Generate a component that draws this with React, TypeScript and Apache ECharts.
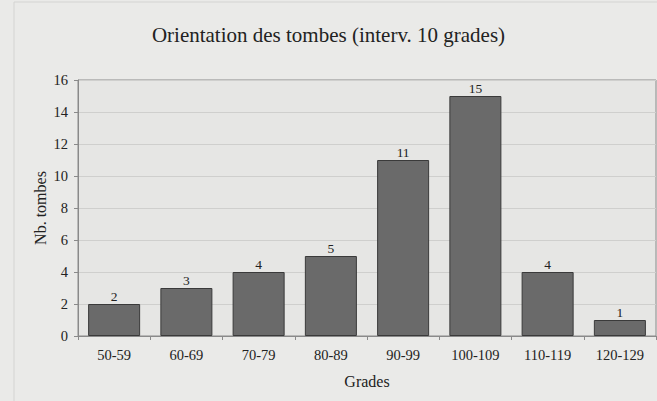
import React, { useEffect, useRef } from "react";
import * as echarts from "echarts";

const categories = ["50-59", "60-69", "70-79", "80-89", "90-99", "100-109", "110-119", "120-129"];
const counts = [2, 3, 4, 5, 11, 15, 4, 1];
const titleText = "Orientation des tombes (interv. 10 grades)";
const xName = "Grades";
const yName = "Nb. tombes";

export default function App() {
  const ref = useRef<HTMLDivElement>(null);
  useEffect(() => {
    if (!ref.current) return;
    const chart = echarts.init(ref.current, null, { renderer: "svg" });
    const font = "'Liberation Serif', 'DejaVu Serif', serif";
    chart.setOption({
      animation: false,
      backgroundColor: "#eaeae8",
      textStyle: { fontFamily: font },
      title: {
        text: titleText,
        left: "center",
        top: 19,
        textStyle: { fontFamily: font, fontSize: 21, fontWeight: "normal", color: "#222" },
      },
      graphic: [
        {
          type: "rect",
          shape: { x: 14, y: 2, width: 660, height: 420 },
          style: { fill: "none", stroke: "#d4d4d2", lineWidth: 1 },
          silent: true,
        },
      ],
      grid: { left: 78, right: 1, top: 80, bottom: 65, show: true, borderColor: "#8a8a8a", borderWidth: 1, backgroundColor: "#e6e6e4" },
      xAxis: {
        type: "category",
        data: categories,
        name: xName,
        nameLocation: "middle",
        nameGap: 37,
        nameMoveOverlap: false,
        nameTextStyle: { fontFamily: font, fontSize: 16, color: "#222" },
        axisLine: { lineStyle: { color: "#8a8a8a" } },
        axisTick: { show: true, length: 4, lineStyle: { color: "#8a8a8a" } },
        axisLabel: { fontFamily: font, fontSize: 14.5, color: "#222", margin: 11 },
      },
      yAxis: {
        type: "value",
        min: 0,
        max: 16,
        interval: 2,
        name: yName,
        nameLocation: "middle",
        nameGap: 30,
        nameMoveOverlap: false,
        nameTextStyle: { fontFamily: font, fontSize: 16, color: "#222" },
        axisLine: { show: true, lineStyle: { color: "#8a8a8a" } },
        axisTick: { show: true, length: 4, lineStyle: { color: "#8a8a8a" } },
        axisLabel: { fontFamily: font, fontSize: 14.5, color: "#222", margin: 10 },
        splitLine: { lineStyle: { color: "#cfcfcd", width: 1 } },
      },
      series: [
        {
          type: "bar",
          data: counts,
          barWidth: "72%",
          itemStyle: { color: "#6a6a6a", borderColor: "#3a3a3a", borderWidth: 1 },
          label: { show: true, position: "top", distance: 1, fontFamily: font, fontSize: 13.5, color: "#222" },
        },
      ],
    });
    return () => chart.dispose();
  }, []);
  return <div ref={ref} style={{ width: 657, height: 401, position: "absolute", left: 0, top: 0 }} />;
}
